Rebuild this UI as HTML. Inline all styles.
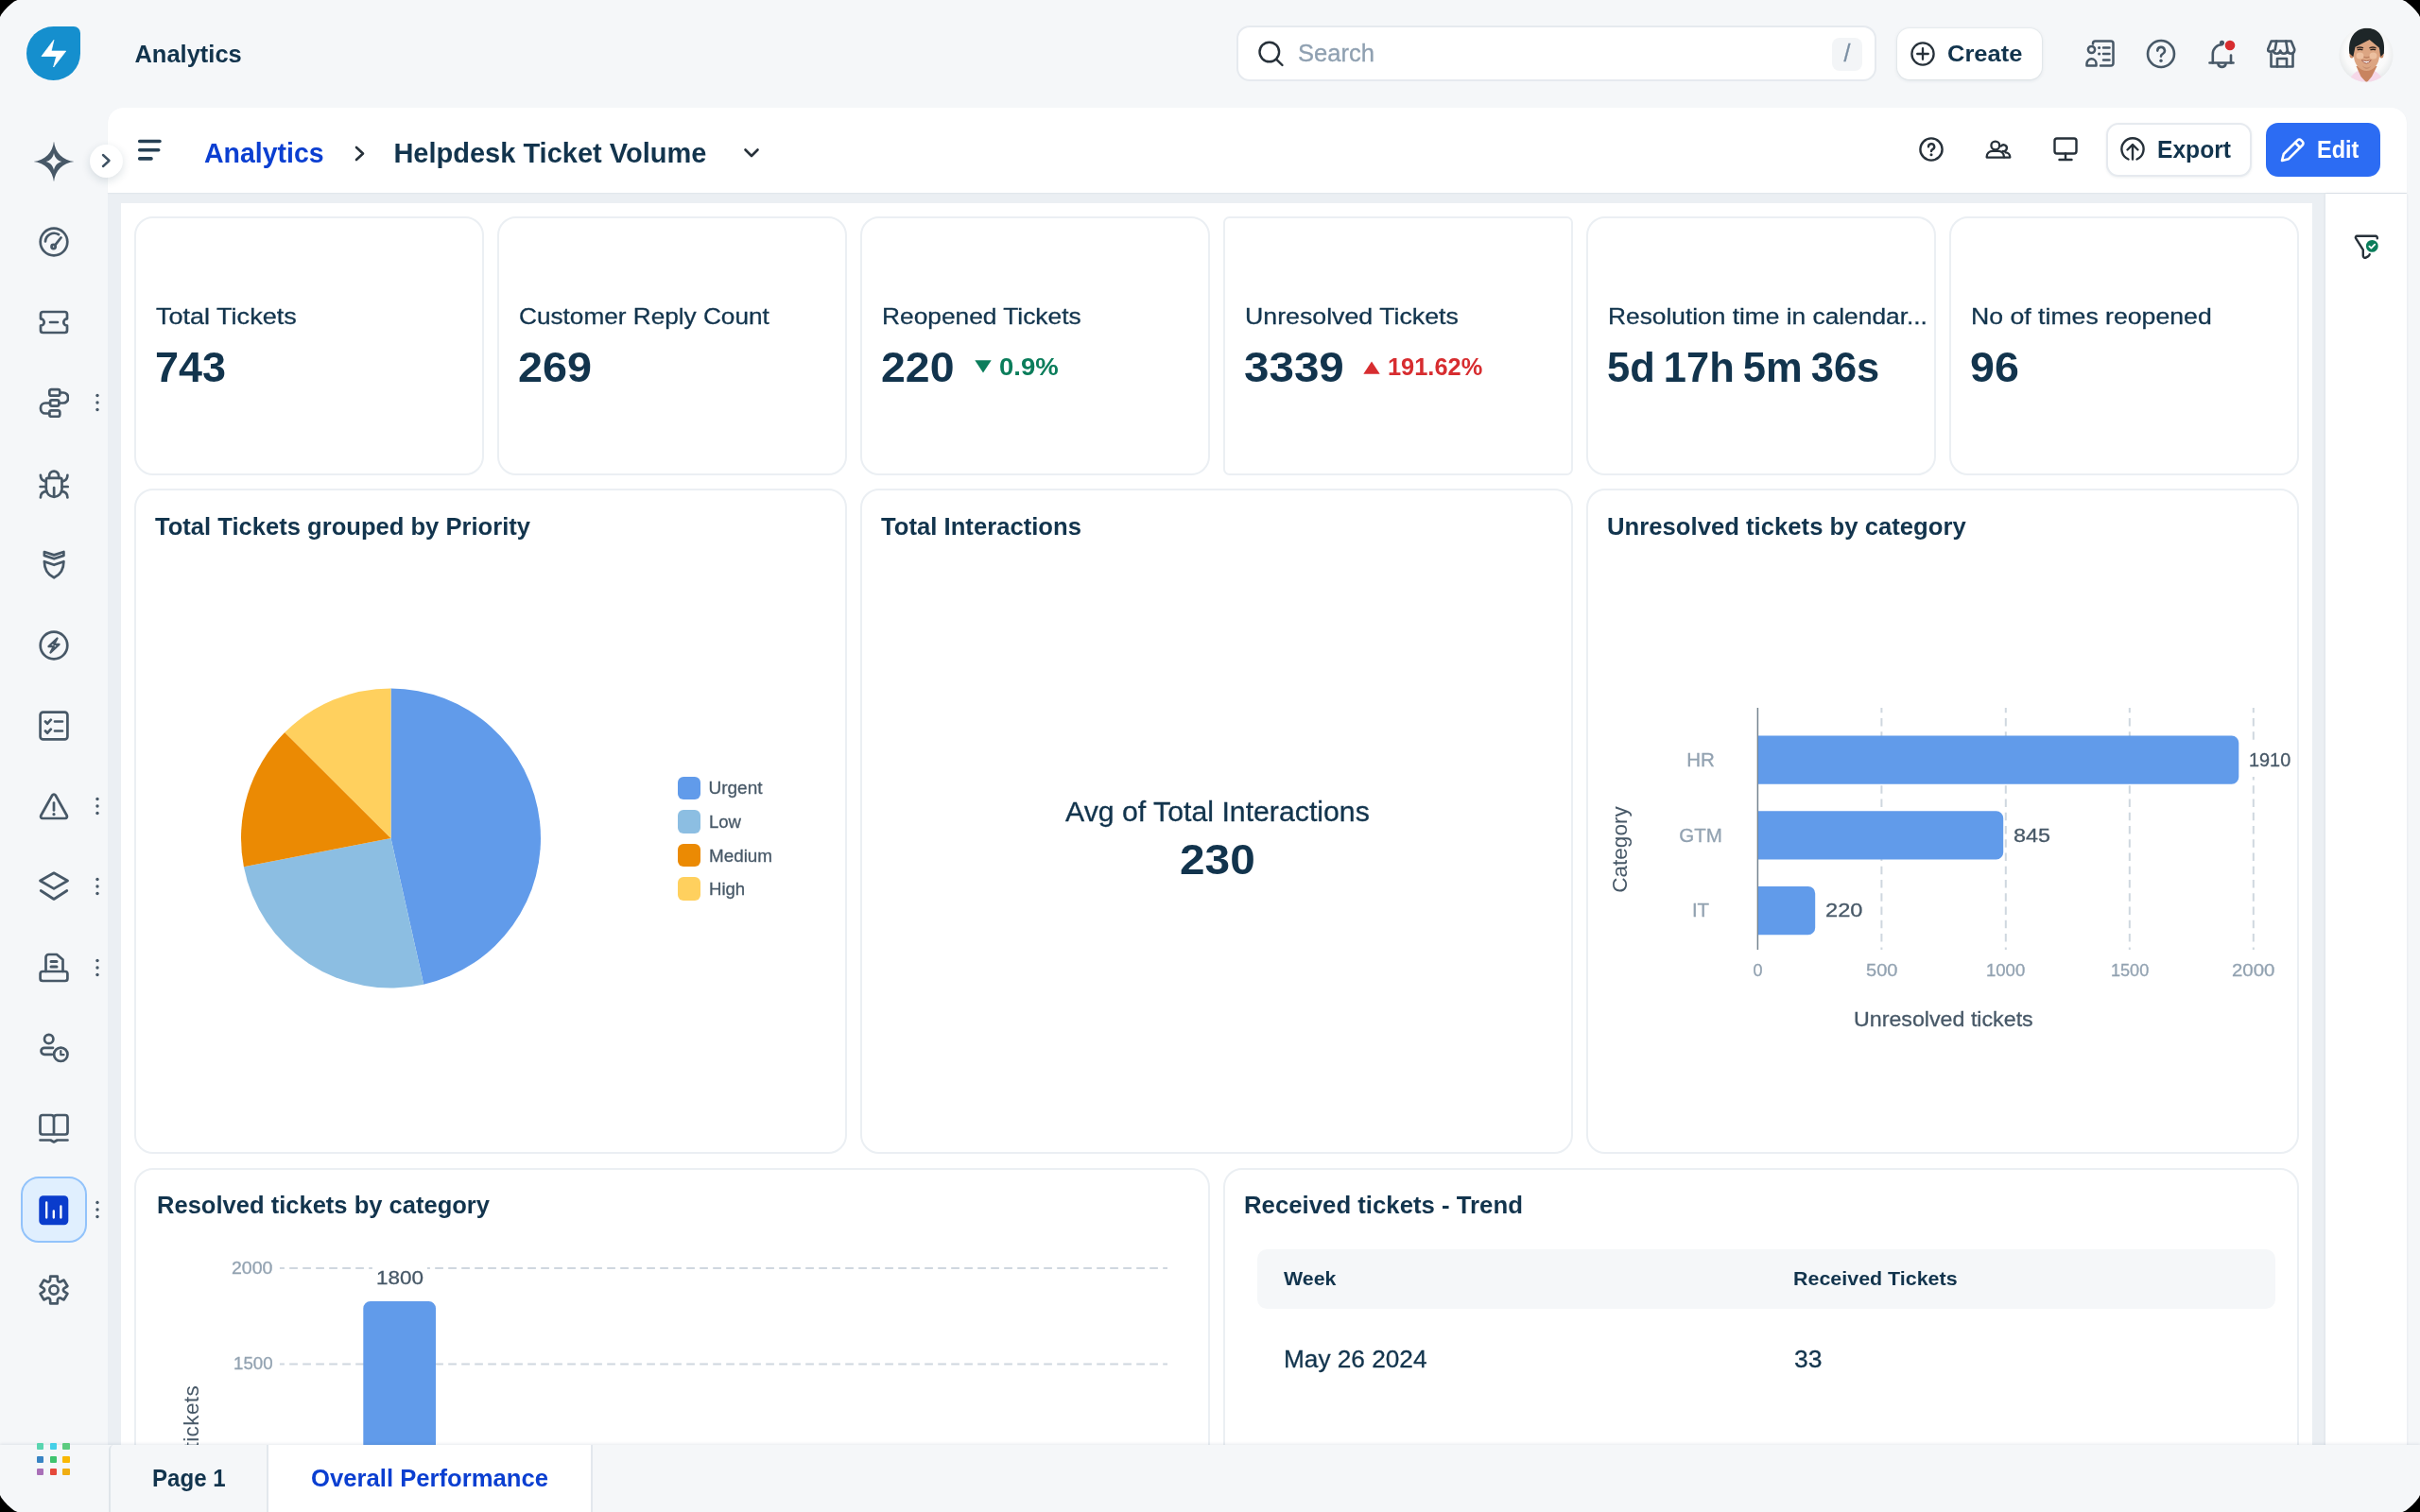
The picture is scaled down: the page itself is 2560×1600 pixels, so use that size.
<!DOCTYPE html>
<html><head><meta charset="utf-8"><title>Analytics</title>
<style>
html,body{margin:0;padding:0;background:#000;}
body{width:2560px;height:1600px;overflow:hidden;position:relative;font-family:"Liberation Sans",sans-serif;}
#app{will-change:transform;position:absolute;left:0;top:0;width:2560px;height:1600px;background:#f5f7f9;overflow:hidden;clip-path:polygon(0 18px,1.5px 15px,4.5px 11.3px,7.7px 7.7px,11.3px 4.5px,15px 1.5px,18.5px 0,2541.5px 0,2545px 1.5px,2548.7px 4.5px,2552.3px 7.7px,2555.5px 11.3px,2558.5px 15px,2560px 18px,2560px 1582px,2558.5px 1585px,2555.5px 1588.7px,2552.3px 1592.3px,2548.7px 1595.5px,2545px 1598.5px,2541.5px 1600px,18.5px 1600px,15px 1598.5px,11.3px 1595.5px,7.7px 1592.3px,4.5px 1588.7px,1.5px 1585px,0 1582px);}
.t{position:absolute;white-space:pre;transform-origin:0 0;}
.r{-webkit-text-stroke:0.3px currentColor;}
.b{position:absolute;box-sizing:border-box;}
.card{position:absolute;box-sizing:border-box;background:#fff;border:2px solid #ebeff3;border-radius:20px;}
</style></head><body><div id="app">
<div class="b" style="left:114px;top:114px;width:2432px;height:1486px;background:#ebeff3;border-radius:16px 16px 0 0;"></div>
<div class="b" style="left:114px;top:114px;width:2432px;height:89.7px;background:#fff;border-radius:16px 16px 0 0;box-shadow:0 1px 1.5px rgba(18,52,77,0.05);"></div>
<div class="b" style="left:128px;top:215px;width:2318px;height:1320px;background:#fff;"></div>
<div class="b" style="left:2460px;top:204.5px;width:86.2px;height:1330px;background:#fff;box-shadow:0 0 3px rgba(18,52,77,0.10);"></div>
<svg class="b" style="left:28px;top:28px;" width="57" height="57" viewBox="0 0 57 57" fill="none"><path d="M28.500 0H50a7 7 0 0 1 7 7v21.500A28.500 28.500 0 1 1 28.500 0z" fill="#158fce"/><path d="M28.900 14.400L16 31.500H31.700L28.600 43L41.700 26.100H26.200z" fill="#fff" stroke="#fff" stroke-width=".800" stroke-linejoin="round"/></svg>
<div class="t" style="left:142.4px;top:44.6px;font-size:25.5px;line-height:25.5px;color:#12344d;font-weight:700;">Analytics</div>
<div class="b" style="left:1308px;top:27px;width:677px;height:59px;background:#fff;border:2px solid #e6eaef;border-radius:14px;"></div>
<svg class="b" style="left:1326px;top:39px;" width="36" height="36" viewBox="0 0 36 36" fill="none"><circle cx="16.800" cy="16" r="10.300" stroke="#27313a" stroke-width="2.400"/><path d="M24.300 23.800L30.500 30" stroke="#27313a" stroke-width="2.400" stroke-linecap="round"/></svg>
<div class="t r" style="left:1373.3px;top:44.0px;font-size:25.5px;line-height:25.5px;color:#8fa0b1;transform:scaleX(1.0025);">Search</div>
<div class="b" style="left:1938px;top:40px;width:32px;height:35px;background:#f3f5f7;border-radius:8px;"></div>
<div class="t r" style="left:1950.5px;top:44.3px;font-size:25px;line-height:25px;color:#7b8fa3;">/</div>
<div class="b" style="left:2007px;top:30px;width:153px;height:54px;background:#fff;border-radius:13px;box-shadow:0 1px 4px rgba(18,52,77,0.12),0 0 0 1px rgba(18,52,77,0.03);"></div>
<svg class="b" style="left:2019px;top:42px;" width="30" height="30" viewBox="0 0 30 30" fill="none"><circle cx="15" cy="15" r="11.600" stroke="#27313a" stroke-width="2.300"/><path d="M15 9.200v11.600M9.200 15h11.600" stroke="#27313a" stroke-width="2.300" stroke-linecap="round"/></svg>
<div class="t" style="left:2059.5px;top:44.5px;font-size:24.5px;line-height:24.5px;color:#12344d;font-weight:700;transform:scaleX(1.0411);">Create</div>
<svg class="b" style="left:2206.0px;top:41.0px;" width="32" height="32" viewBox="0 0 32 32" fill="none"><g stroke="#475867" stroke-width="2.5" stroke-linecap="round" stroke-linejoin="round"><circle cx="6.5" cy="11.5" r="3.6"/><path d="M1.5 28.5v-2.2a5 5 0 0 1 5-5a5 5 0 0 1 5 5v2.2z"/><path d="M8 5.5V5a2.5 2.5 0 0 1 2.500-2.500H27a2.500 2.500 0 0 1 2.500 2.500v21a2.500 2.500 0 0 1-2.500 2.500h-11"/><path d="M19 9.500h6.500M19 16h6.500M19 22.500h6.500"/><path d="M14.600 9.500h.01M14.600 16h.01" stroke-width="3.200"/></g></svg>
<svg class="b" style="left:2270.0px;top:41.0px;" width="32" height="32" viewBox="0 0 32 32" fill="none"><g stroke="#475867" stroke-width="2.6" stroke-linecap="round" stroke-linejoin="round"><circle cx="16" cy="16" r="14"/><path d="M12.300 12.600a3.800 3.800 0 1 1 5.400 3.500c-1.200.600-1.700 1.300-1.700 2.500"/><path d="M16 23.200h.01" stroke-width="3.400"/></g></svg>
<svg class="b" style="left:2334.0px;top:41.0px;" width="32" height="32" viewBox="0 0 32 32" fill="none"><g stroke="#475867" stroke-width="2.6" stroke-linecap="round" stroke-linejoin="round"><path d="M3.500 25.500h25"/><path d="M6.800 25.500V16a9.700 9.700 0 0 1 9.700-9.700"/><path d="M26 17.500v8" /><path d="M12.500 27a4.200 4.200 0 0 0 8 0"/><circle cx="16.500" cy="4.300" r="1.300"/></g></svg>
<svg class="b" style="left:2352.2px;top:41px;" width="14" height="14" viewBox="0 0 14 14" fill="none"><circle cx="7" cy="7" r="5.300" fill="#d72d30"/></svg>
<svg class="b" style="left:2398.0px;top:41.0px;" width="32" height="32" viewBox="0 0 32 32" fill="none"><g stroke="#475867" stroke-width="2.6" stroke-linecap="round" stroke-linejoin="round"><path d="M5.500 2.500h21l3.500 8.500v1.500a3.800 3.800 0 0 1-7.500 0a3.800 3.800 0 0 1-7.500 0a3.800 3.800 0 0 1-7.500 0a3.800 3.800 0 0 1-5.500 0V11z" transform="translate(-.8 0)"/><path d="M11 2.500l-1.500 9M21 2.500l1.500 9" transform="translate(-.8 0)"/><path d="M4.500 16v13.500h23V16"/><path d="M11 29.500v-8.500h10v8.500"/></g></svg>
<svg class="b" style="left:2474px;top:28.5px;" width="58" height="58" viewBox="0 0 58 58" fill="none"><defs><clipPath id="av"><circle cx="29" cy="29" r="28.600"/></clipPath><radialGradient id="avg" cx="50%" cy="45%" r="55%"><stop offset="0" stop-color="#ffffff"/><stop offset=".7" stop-color="#fafafa"/><stop offset="1" stop-color="#e6e9ea"/></radialGradient></defs><g clip-path="url(#av)"><rect width="58" height="58" fill="url(#avg)"/><ellipse cx="29" cy="61" rx="18.500" ry="17" fill="#f6d8e8"/><path d="M18.500 41H40.500L35 52L29.500 58.500L23.500 52Z" fill="#c8845f"/><ellipse cx="13.800" cy="28" rx="2.400" ry="4.600" fill="#c98a66"/><ellipse cx="45.200" cy="28" rx="2.400" ry="4.600" fill="#c98a66"/><path d="M16 22C16 14 22 11 29.500 11S43 14 43 22V30C43 39 36.500 46 29.500 46S16 39 16 30Z" fill="#dca582"/><ellipse cx="22.500" cy="30" rx="4" ry="3.500" fill="#ecbf9f"/><ellipse cx="36.500" cy="30" rx="4" ry="3.500" fill="#ecbf9f"/><path d="M25 40.500C27 45 32 45 34.500 40.500C32 43 27.500 43 25 40.500Z" fill="#c88f70"/><path d="M11.300 27.500C9.500 10.500 18 .800 30 .800S50 10.500 47.800 27.500L44.500 31L42.800 21.500L32.600 13L17.500 20.800L15.300 31Z" fill="#1e2628"/><path d="M19.500 21.600q3-1.300 6 0M33 21.600q3-1.300 6 0" stroke="#3a2b24" stroke-width="1.500" fill="none" stroke-linecap="round"/><path d="M20.300 23.700q2.300-.900 4.600 0M34 23.700q2.300-.900 4.600 0" stroke="#2c211c" stroke-width="1.300" fill="none" stroke-linecap="round"/><path d="M27 31.200q2.500 1.300 5 0" stroke="#b87a5c" stroke-width="1.200" fill="none" stroke-linecap="round"/><path d="M24.300 34.800Q29.300 36.300 34.300 34.800Q29.300 41.300 24.300 34.800Z" fill="#fff" stroke="#a7604e" stroke-width="1"/></g></svg>
<svg class="b" style="left:144px;top:146px;" width="28" height="24" viewBox="0 0 28 24" fill="none"><path d="M3.700 3.500h21.300M3.700 12.700h20M3.700 21.900h12.300" stroke="#264054" stroke-width="3.600" stroke-linecap="round"/></svg>
<div class="t" style="left:216.0px;top:147.9px;font-size:29px;line-height:29px;color:#0b3fd1;font-weight:700;transform:scaleX(0.9826);">Analytics</div>
<svg class="b" style="left:372px;top:150px;" width="18" height="26" viewBox="0 0 18 26" fill="none"><path d="M5 6l7 6.500L5 19" stroke="#27313a" stroke-width="2.600" stroke-linecap="round" stroke-linejoin="round" fill="none"/></svg>
<div class="t" style="left:416.4px;top:147.9px;font-size:29px;line-height:29px;color:#12344d;font-weight:700;">Helpdesk Ticket Volume</div>
<svg class="b" style="left:784px;top:152px;" width="22" height="20" viewBox="0 0 22 20" fill="none"><path d="M4.500 6.500l6.500 6.500l6.500-6.500" stroke="#27313a" stroke-width="2.600" stroke-linecap="round" stroke-linejoin="round" fill="none"/></svg>
<div class="b" style="left:94.5px;top:153px;width:35px;height:35px;background:#fff;border-radius:50%;box-shadow:0 3px 10px rgba(18,52,77,0.15);"></div>
<svg class="b" style="left:103px;top:160px;" width="18" height="20" viewBox="0 0 18 20" fill="none"><path d="M6 4l6.500 6L6 16" stroke="#3f5263" stroke-width="2.400" stroke-linecap="round" stroke-linejoin="round" fill="none"/></svg>
<svg class="b" style="left:2028.6px;top:144.2px;" width="28" height="28" viewBox="0 0 28 28" fill="none"><g stroke="#27313a" stroke-width="2.4" stroke-linecap="round" stroke-linejoin="round"><circle cx="14" cy="14" r="11.600"/><path d="M11 11.200a3.100 3.100 0 1 1 4.400 2.900c-1 .500-1.400 1.100-1.400 2"/><path d="M14 19.800h.01" stroke-width="3"/></g></svg>
<svg class="b" style="left:2099.9px;top:144.2px;" width="28" height="28" viewBox="0 0 28 28" fill="none"><g stroke="#27313a" stroke-width="2.3" stroke-linecap="round" stroke-linejoin="round"><circle cx="10.800" cy="10" r="4.400"/><path d="M1.700 22.600v-.800a6 6 0 0 1 6-6h6.200a6 6 0 0 1 6 6v.800z"/><path d="M16.800 10.600a3.400 3.400 0 1 1 1.800 5.400"/><path d="M21.500 17.300a5 5 0 0 1 4.800 5v.300h-6"/></g></svg>
<svg class="b" style="left:2170.9px;top:144.2px;" width="28" height="28" viewBox="0 0 28 28" fill="none"><g stroke="#27313a" stroke-width="2.4" stroke-linecap="round" stroke-linejoin="round"><rect x="2.500" y="2.500" width="23" height="16" rx="2.500"/><path d="M14 18.500v6M7.500 25h13"/></g></svg>
<div class="b" style="left:2228px;top:130px;width:154px;height:56.6px;background:#fff;border:2px solid #e6eaef;border-radius:13px;box-shadow:0 1px 3px rgba(18,52,77,0.08);"></div>
<svg class="b" style="left:2241.8px;top:144.2px;" width="28" height="28" viewBox="0 0 28 28" fill="none"><g stroke="#27313a" stroke-width="2.400" stroke-linecap="round" stroke-linejoin="round"><path d="M9.500 24.500a11.600 11.600 0 1 1 9 0"/><path d="M14 24.500V9.500M8.500 14.500L14 9l5.500 5.500"/></g></svg>
<div class="t" style="left:2281.9px;top:146.3px;font-size:25px;line-height:25px;color:#12344d;font-weight:700;transform:scaleX(0.9851);">Export</div>
<div class="b" style="left:2396.5px;top:130px;width:121px;height:56.6px;background:#2c6cf3;border-radius:13px;"></div>
<svg class="b" style="left:2410px;top:144px;" width="30" height="30" viewBox="0 0 30 30" fill="none"><g stroke="#fff" stroke-width="2.600" stroke-linecap="round" stroke-linejoin="round"><path d="M4 26l1.800-7L20.500 4.300a2.600 2.600 0 0 1 3.700 0l1.500 1.500a2.600 2.600 0 0 1 0 3.700L11 24.200z"/><path d="M18 7l5 5"/></g></svg>
<div class="t" style="left:2450.9px;top:146.3px;font-size:25px;line-height:25px;color:#fff;font-weight:700;transform:scaleX(0.9403);">Edit</div>
<svg class="b" style="left:2488px;top:246px;" width="32" height="32" viewBox="0 0 32 32" fill="none"><g stroke="#27313a" stroke-width="2.400" stroke-linecap="round" stroke-linejoin="round"><path d="M26.800 6.300V5.400a1.600 1.600 0 0 0-1.600-1.600H5.400a1.500 1.500 0 0 0-1.300 2.300L11.800 18.300V24.800a2 2 0 0 0 2.900 1.800l2.300-1.200a3.200 3.200 0 0 0 1.700-2.300"/></g><circle cx="21.300" cy="14.400" r="6.400" fill="#0b7d5b"/><path d="M18.400 14.600l2 2l3.800-3.900" stroke="#fff" stroke-width="1.800" stroke-linecap="round" stroke-linejoin="round"/></svg>
<div class="card" style="left:142px;top:229.2px;width:370px;height:273.6px;border-radius:20px;"></div>
<div class="t r" style="left:164.5px;top:322.6px;font-size:24.5px;line-height:24.5px;color:#12344d;transform:scaleX(1.1031);">Total Tickets</div>
<div class="t" style="left:163.6px;top:366.8px;font-size:44px;line-height:44px;color:#12344d;font-weight:700;transform:scaleX(1.0216);">743</div>
<div class="card" style="left:526px;top:229.2px;width:370px;height:273.6px;border-radius:20px;"></div>
<div class="t r" style="left:548.5px;top:322.6px;font-size:24.5px;line-height:24.5px;color:#12344d;transform:scaleX(1.0685);">Customer Reply Count</div>
<div class="t" style="left:547.6px;top:366.8px;font-size:44px;line-height:44px;color:#12344d;font-weight:700;transform:scaleX(1.0625);">269</div>
<div class="card" style="left:910px;top:229.2px;width:370px;height:273.6px;border-radius:20px;"></div>
<div class="t r" style="left:932.5px;top:322.6px;font-size:24.5px;line-height:24.5px;color:#12344d;transform:scaleX(1.0738);">Reopened Tickets</div>
<div class="t" style="left:931.6px;top:366.8px;font-size:44px;line-height:44px;color:#12344d;font-weight:700;transform:scaleX(1.0556);">220</div>
<div class="card" style="left:1294px;top:229.2px;width:370px;height:273.6px;border-radius:6.5px;"></div>
<div class="t r" style="left:1316.5px;top:322.6px;font-size:24.5px;line-height:24.5px;color:#12344d;transform:scaleX(1.0910);">Unresolved Tickets</div>
<div class="t" style="left:1315.6px;top:366.8px;font-size:44px;line-height:44px;color:#12344d;font-weight:700;transform:scaleX(1.0808);">3339</div>
<div class="card" style="left:1678px;top:229.2px;width:370px;height:273.6px;border-radius:20px;"></div>
<div class="t r" style="left:1700.5px;top:322.6px;font-size:24.5px;line-height:24.5px;color:#12344d;transform:scaleX(1.0741);">Resolution time in calendar...</div>
<div class="t" style="left:1699.6px;top:366.8px;font-size:44px;line-height:44px;color:#12344d;font-weight:700;transform:scaleX(0.9878);word-spacing:-3px;">5d 17h 5m 36s</div>
<div class="card" style="left:2062px;top:229.2px;width:370px;height:273.6px;border-radius:20px;"></div>
<div class="t r" style="left:2084.5px;top:322.6px;font-size:24.5px;line-height:24.5px;color:#12344d;transform:scaleX(1.0873);">No of times reopened</div>
<div class="t" style="left:2083.6px;top:366.8px;font-size:44px;line-height:44px;color:#12344d;font-weight:700;transform:scaleX(1.0584);">96</div>
<svg class="b" style="left:1031px;top:380.9px;" width="18" height="14" viewBox="0 0 18 14" fill="none"><path d="M0.3 0.300h17.400L9 13.500z" fill="#0b7d5b"/></svg>
<div class="t" style="left:1056.8px;top:374.8px;font-size:26px;line-height:26px;color:#0b7d5b;font-weight:700;transform:scaleX(1.0580);">0.9%</div>
<svg class="b" style="left:1442px;top:381.8px;" width="18" height="14" viewBox="0 0 18 14" fill="none"><path d="M0.300 13.700h17.400L9 .500z" fill="#d72d30"/></svg>
<div class="t" style="left:1467.5px;top:374.8px;font-size:26px;line-height:26px;color:#d72d30;font-weight:700;transform:scaleX(0.9762);">191.62%</div>
<div class="card" style="left:142px;top:517.3px;width:754px;height:704px;border-radius:20px;"></div>
<div class="card" style="left:910px;top:517.3px;width:754px;height:704px;border-radius:20px;"></div>
<div class="card" style="left:1678px;top:517.3px;width:754px;height:704px;border-radius:20px;"></div>
<div class="t" style="left:164.3px;top:544.8px;font-size:25px;line-height:25px;color:#12344d;font-weight:700;transform:scaleX(1.0231);">Total Tickets grouped by Priority</div>
<div class="t" style="left:932.3px;top:544.8px;font-size:25px;line-height:25px;color:#12344d;font-weight:700;transform:scaleX(1.0266);">Total Interactions</div>
<div class="t" style="left:1700.0px;top:544.8px;font-size:25px;line-height:25px;color:#12344d;font-weight:700;transform:scaleX(1.0276);">Unresolved tickets by category</div>
<svg class="b" style="left:250px;top:724px;" width="330" height="330" viewBox="0 0 330 330" fill="none"><path d="M163.5 163L163.50 4.50A158.5 158.5 0 0 1 198.21 317.65Z" fill="#619bea"/><path d="M163.5 163L198.21 317.65A158.5 158.5 0 0 1 7.90 193.19Z" fill="#8cbee2"/><path d="M163.5 163L7.90 193.19A158.5 158.5 0 0 1 51.27 51.08Z" fill="#eb8a03"/><path d="M163.5 163L51.27 51.08A158.5 158.5 0 0 1 163.50 4.50Z" fill="#ffd05e"/></svg>
<div class="b" style="left:716.5px;top:821.5px;width:24.5px;height:24.5px;background:#619bea;border-radius:6px;"></div>
<div class="t r" style="left:749.5px;top:824.4px;font-size:19px;line-height:19px;color:#475867;">Urgent</div>
<div class="b" style="left:716.5px;top:857.1px;width:24.5px;height:24.5px;background:#8cbee2;border-radius:6px;"></div>
<div class="t r" style="left:749.5px;top:860.0px;font-size:19px;line-height:19px;color:#475867;transform:scaleX(0.9754);">Low</div>
<div class="b" style="left:716.5px;top:892.7px;width:24.5px;height:24.5px;background:#eb8a03;border-radius:6px;"></div>
<div class="t r" style="left:749.5px;top:895.6px;font-size:19px;line-height:19px;color:#475867;transform:scaleX(0.9914);">Medium</div>
<div class="b" style="left:716.5px;top:928.3px;width:24.5px;height:24.5px;background:#ffd05e;border-radius:6px;"></div>
<div class="t r" style="left:749.5px;top:931.2px;font-size:19px;line-height:19px;color:#475867;transform:scaleX(0.9775);">High</div>
<div class="t r" style="left:1126.6px;top:845.0px;font-size:29px;line-height:29px;color:#12344d;transform:scaleX(1.0433);">Avg of Total Interactions</div>
<div class="t" style="left:1247.9px;top:887.2px;font-size:45px;line-height:45px;color:#12344d;font-weight:700;transform:scaleX(1.0615);">230</div>
<svg class="b" style="left:1670px;top:500px;" width="780" height="560" viewBox="0 0 780 560" fill="none"><path d="M320.4 249V505" stroke="#cfd7df" stroke-width="2" stroke-dasharray="8.5 5.76" stroke-dashoffset="3.3"/><path d="M451.8 249V505" stroke="#cfd7df" stroke-width="2" stroke-dasharray="8.5 5.76" stroke-dashoffset="3.3"/><path d="M582.8 249V505" stroke="#cfd7df" stroke-width="2" stroke-dasharray="8.5 5.76" stroke-dashoffset="3.3"/><path d="M713.8 249V505" stroke="#cfd7df" stroke-width="2" stroke-dasharray="8.5 5.76" stroke-dashoffset="3.3"/><path d="M189.4 249V505" stroke="#76848f" stroke-width="1.500"/><rect x="706" y="284" width="54" height="38" fill="#fff"/><path d="M190 278.5h500.8a7.5 7.5 0 0 1 7.5 7.5v36.3a7.5 7.5 0 0 1 -7.5 7.5h-500.8z" fill="#619bea"/><path d="M190 358.2h251.7a7.5 7.5 0 0 1 7.5 7.5v36.3a7.5 7.5 0 0 1 -7.5 7.5h-251.7z" fill="#619bea"/><path d="M190 437.9h52.7a7.5 7.5 0 0 1 7.5 7.5v36.3a7.5 7.5 0 0 1 -7.5 7.5h-52.7z" fill="#619bea"/></svg>
<div class="t r" style="left:1784.2px;top:794.1px;font-size:20.5px;line-height:20.5px;color:#92a2b1;">HR</div>
<div class="t r" style="left:1776.2px;top:873.7px;font-size:20.5px;line-height:20.5px;color:#92a2b1;">GTM</div>
<div class="t r" style="left:1789.9px;top:953.4px;font-size:20.5px;line-height:20.5px;color:#92a2b1;">IT</div>
<div class="t r" style="left:2379.3px;top:794.1px;font-size:20.5px;line-height:20.5px;color:#475867;transform:scaleX(0.9692);">1910</div>
<div class="t r" style="left:2130.3px;top:873.8px;font-size:20.5px;line-height:20.5px;color:#475867;transform:scaleX(1.1402);">845</div>
<div class="t r" style="left:1931.3px;top:953.4px;font-size:20.5px;line-height:20.5px;color:#475867;transform:scaleX(1.1519);">220</div>
<div class="t r" style="left:1854.4px;top:1017.8px;font-size:18px;line-height:18px;color:#92a2b1;">0</div>
<div class="t r" style="left:1973.7px;top:1017.8px;font-size:18px;line-height:18px;color:#92a2b1;transform:scaleX(1.1121);">500</div>
<div class="t r" style="left:2101.2px;top:1017.8px;font-size:18px;line-height:18px;color:#92a2b1;transform:scaleX(1.0289);">1000</div>
<div class="t r" style="left:2232.7px;top:1017.8px;font-size:18px;line-height:18px;color:#92a2b1;transform:scaleX(1.0039);">1500</div>
<div class="t r" style="left:2361.1px;top:1017.8px;font-size:18px;line-height:18px;color:#92a2b1;transform:scaleX(1.1337);">2000</div>
<div class="t r" style="left:1960.8px;top:1067.5px;font-size:22.5px;line-height:22.5px;color:#475867;transform:scaleX(1.0319);">Unresolved tickets</div>
<div class="t" style="left:1613.6px;top:887.5px;width:200px;height:22px;text-align:center;font-size:22.5px;line-height:22px;color:#475867;transform-origin:50% 50%;transform:rotate(-90deg);">Category</div>
<div class="card" style="left:142px;top:1235.7px;width:1138px;height:400px;border-radius:20px;"></div>
<div class="card" style="left:1294px;top:1235.7px;width:1138px;height:400px;border-radius:20px;"></div>
<div class="t" style="left:166.0px;top:1263.2px;font-size:25px;line-height:25px;color:#12344d;font-weight:700;transform:scaleX(1.0215);">Resolved tickets by category</div>
<div class="t" style="left:1316.0px;top:1263.2px;font-size:25px;line-height:25px;color:#12344d;font-weight:700;transform:scaleX(1.0303);">Received tickets - Trend</div>
<svg class="b" style="left:0px;top:1200px;" width="1300" height="400" viewBox="0 0 1300 400" fill="none"><path d="M295.9 142.0H1235" stroke="#cfd7df" stroke-width="2" stroke-dasharray="8.7 5.3" stroke-dashoffset="3.7"/><path d="M295.9 243.5H1235" stroke="#cfd7df" stroke-width="2" stroke-dasharray="8.7 5.3" stroke-dashoffset="3.7"/><rect x="393.9" y="138" width="58" height="28" fill="#fff"/><path d="M384.3 400V184.500a7.500 7.500 0 0 1 7.500-7.500h61.700a7.500 7.500 0 0 1 7.500 7.500V400z" fill="#619bea"/></svg>
<div class="t r" style="left:245.0px;top:1332.8px;font-size:18px;line-height:18px;color:#92a2b1;transform:scaleX(1.0863);">2000</div>
<div class="t r" style="left:247.0px;top:1434.3px;font-size:18px;line-height:18px;color:#92a2b1;transform:scaleX(1.0364);">1500</div>
<div class="t r" style="left:397.6px;top:1341.6px;font-size:20.5px;line-height:20.5px;color:#475867;transform:scaleX(1.0963);">1800</div>
<div class="t" style="left:53px;top:1540px;width:300px;letter-spacing:0.4px;height:22px;text-align:center;font-size:22.5px;line-height:22px;color:#475867;transform-origin:50% 50%;transform:rotate(-90deg);">Resolved tickets</div>
<div class="b" style="left:1329.6px;top:1322px;width:1077.7px;height:63px;background:#f5f7f9;border-radius:10px;"></div>
<div class="t" style="left:1358.0px;top:1342.4px;font-size:21px;line-height:21px;color:#12344d;font-weight:700;transform:scaleX(1.0169);">Week</div>
<div class="t" style="left:1896.8px;top:1342.4px;font-size:21px;line-height:21px;color:#12344d;font-weight:700;transform:scaleX(1.0208);">Received Tickets</div>
<div class="t r" style="left:1358.0px;top:1425.9px;font-size:25.5px;line-height:25.5px;color:#12344d;transform:scaleX(1.0276);">May 26 2024</div>
<div class="t r" style="left:1897.8px;top:1425.9px;font-size:25.5px;line-height:25.5px;color:#12344d;transform:scaleX(1.0400);">33</div>
<div class="b" style="left:0px;top:1528.5px;width:2560px;height:72px;background:#f5f7f9;box-shadow:0 -1px 3px rgba(18,52,77,0.10);"></div>
<div class="b" style="left:114.5px;top:1528.5px;width:170px;height:72px;background:#f5f7f9;border-left:2px solid #dfe5ea;border-radius:5px 0 0 0;"></div>
<div class="b" style="left:282.3px;top:1528.5px;width:345px;height:72px;background:#fff;border-left:2px solid #e3e8ed;border-right:2px solid #e3e8ed;"></div>
<div class="t" style="left:160.7px;top:1552.4px;font-size:25px;line-height:25px;color:#12344d;font-weight:700;transform:scaleX(0.9627);">Page 1</div>
<div class="t" style="left:329.4px;top:1552.4px;font-size:25px;line-height:25px;color:#0b3fd1;font-weight:700;transform:scaleX(1.0263);">Overall Performance</div>
<div class="b" style="left:0px;top:1528.5px;width:113.5px;height:72px;background:#f5f7f9;"></div>
<svg class="b" style="left:33.7px;top:147.6px;" width="46" height="46" viewBox="0 0 46 46" fill="none"><path d="M23 1.500C24.200 13.500 32.500 21.800 44.500 23C32.500 24.200 24.200 32.500 23 44.500C21.800 32.500 13.500 24.200 1.500 23C13.500 21.800 21.800 13.500 23 1.500Z" fill="#475867"/><path d="M23 14C24 19 27 22 31.300 23C27 24 24 27 23 32C22 27 19 24 14.700 23C19 22 22 19 23 14Z" fill="#f5f7f9"/></svg>
<svg class="b" style="left:40.7px;top:239.8px;" width="32" height="32" viewBox="0 0 32 32" fill="none"><g stroke="#475867" stroke-width="2.7" stroke-linecap="round" stroke-linejoin="round"><circle cx="16" cy="16" r="14.300"/><path d="M7 15.500a9.200 9.200 0 0 1 14-7.300"/><path d="M17.300 19.300L23.500 11.500"/><circle cx="15.600" cy="21" r="2.100"/></g></svg>
<svg class="b" style="left:40.7px;top:325.0px;" width="32" height="32" viewBox="0 0 32 32" fill="none"><g stroke="#475867" stroke-width="2.7" stroke-linecap="round" stroke-linejoin="round"><path d="M4.500 5h23a2.500 2.500 0 0 1 2.500 2.500v4.800a3.700 3.700 0 0 0 0 7.400v4.800a2.500 2.500 0 0 1-2.500 2.500h-23a2.500 2.500 0 0 1-2.500-2.500v-4.800a3.700 3.700 0 0 0 0-7.400V7.500a2.500 2.500 0 0 1 2.500-2.500z"/><path d="M12 16h8"/></g></svg>
<svg class="b" style="left:40.7px;top:409.8px;" width="32" height="32" viewBox="0 0 32 32" fill="none"><g stroke="#475867" stroke-width="2.7" stroke-linecap="round" stroke-linejoin="round"><rect x="11.300" y="2.200" width="11" height="6.500" rx="2"/><rect x="12" y="13.300" width="9.400" height="6.300" rx="2"/><rect x="11.300" y="24.300" width="11" height="6.500" rx="2"/><path d="M22.300 5.500h3.700a5 5 0 0 1 5 5v1a5 5 0 0 1-5 5h-4.500"/><path d="M12 16.500H7a5 5 0 0 0-5 5v1a5 5 0 0 0 5 5h4.300"/></g></svg>
<svg class="b" style="left:40.7px;top:497.0px;" width="32" height="32" viewBox="0 0 32 32" fill="none"><g stroke="#475867" stroke-width="2.7" stroke-linecap="round" stroke-linejoin="round"><path d="M11.100 8.900V6.600a5 5 0 0 1 10 0V8.900"/><path d="M9.800 8.900h12.700a2 2 0 0 1 2 2v9.600a8.350 8.350 0 0 1-16.700 0v-9.600a2 2 0 0 1 2-2z"/><path d="M16.150 19v9.500"/><path d="M7.800 12.600C4.500 12 1.900 9.500 1.900 5.800M24.500 12.600C27.800 12 30.400 9.500 30.400 5.800M1.600 18h6.200M24.500 18h6.200M8.400 22.800C4.500 23 1.900 25.500 1.900 29.500M23.900 22.800C27.800 23 30.400 25.500 30.400 29.500"/></g></svg>
<svg class="b" style="left:40.7px;top:581.0px;" width="32" height="32" viewBox="0 0 32 32" fill="none"><g stroke="#475867" stroke-width="2.7" stroke-linecap="round" stroke-linejoin="round"><path d="M5.900 3L16.150 6.400L26.400 3V6.900L16.150 10.300L5.900 6.900Z"/><path d="M5.900 13.200L16.150 16.800L26.400 13.200C26.400 22 22 27.500 16.150 30.300C10.300 27.500 5.900 22 5.900 13.200Z"/></g></svg>
<svg class="b" style="left:40.7px;top:666.5px;" width="32" height="32" viewBox="0 0 32 32" fill="none"><g stroke="#475867" stroke-width="2.7" stroke-linecap="round" stroke-linejoin="round"><circle cx="16" cy="16" r="14.300"/><path d="M19.500 8.500L10.500 17.200h5.300L12.500 23.500L21.500 14.800h-5.300z" stroke-width="2.300"/></g></svg>
<svg class="b" style="left:40.7px;top:752.0px;" width="32" height="32" viewBox="0 0 32 32" fill="none"><g stroke="#475867" stroke-width="2.7" stroke-linecap="round" stroke-linejoin="round"><rect x="1.600" y="1.600" width="28.800" height="28.800" rx="3"/><path d="M7 11.500l2.200 2.200l3.600-4M7 21.500l2.200 2.200l3.600-4M17 11.500h8M17 21.500h8"/></g></svg>
<svg class="b" style="left:40.7px;top:837.0px;" width="32" height="32" viewBox="0 0 32 32" fill="none"><g stroke="#475867" stroke-width="2.7" stroke-linecap="round" stroke-linejoin="round"><path d="M14.300 4.500a2 2 0 0 1 3.400 0l12 21.500a2 2 0 0 1-1.700 3H4a2 2 0 0 1-1.700-3z"/><path d="M16 12.500v8"/><path d="M16 24.700h.01" stroke-width="3.200"/></g></svg>
<svg class="b" style="left:40.7px;top:922.0px;" width="32" height="32" viewBox="0 0 32 32" fill="none"><g stroke="#475867" stroke-width="2.7" stroke-linecap="round" stroke-linejoin="round"><path d="M16 1.800L30.500 10L16 18.300L1.500 10Z"/><path d="M2.200 20.500L16 29.500L29.800 20.500"/></g></svg>
<svg class="b" style="left:40.7px;top:1008.0px;" width="32" height="32" viewBox="0 0 32 32" fill="none"><g stroke="#475867" stroke-width="2.7" stroke-linecap="round" stroke-linejoin="round"><path d="M7.500 20V5a3 3 0 0 1 3-3h8.500l6.500 5.500V20"/><path d="M13 9.500h6M13 15h6" stroke-width="3"/><rect x="1.600" y="20" width="28.800" height="10" rx="2.500"/></g></svg>
<svg class="b" style="left:40.7px;top:1093.0px;" width="32" height="32" viewBox="0 0 32 32" fill="none"><g stroke="#475867" stroke-width="2.7" stroke-linecap="round" stroke-linejoin="round"><circle cx="10.700" cy="6.500" r="4.700"/><path d="M15 15.800H6a3.500 3.500 0 0 0 0 7h8"/><circle cx="23.300" cy="22.800" r="7.200"/><path d="M23.300 19v4.200h3.200" stroke-width="2.200"/></g></svg>
<svg class="b" style="left:40.7px;top:1178.0px;" width="32" height="32" viewBox="0 0 32 32" fill="none"><g stroke="#475867" stroke-width="2.7" stroke-linecap="round" stroke-linejoin="round"><path d="M16 5v17M16 5c0-1.700-1.300-3-3-3H4a2.500 2.500 0 0 0-2.500 2.500v15.500A2.500 2.500 0 0 0 4 22.500h24a2.500 2.500 0 0 0 2.500-2.500V4.500A2.500 2.500 0 0 0 28 2h-9c-1.700 0-3 1.300-3 3"/><path d="M1.500 28.500h11l3.500 2l3.500-2h11"/></g></svg>
<div class="b" style="left:21.7px;top:1244.6px;width:70.4px;height:70.4px;background:#e0effe;border:2px solid #92c3fb;border-radius:19px;"></div>
<svg class="b" style="left:41px;top:1264.5px;" width="32" height="32" viewBox="0 0 32 32" fill="none"><rect x=".3" y=".3" width="31" height="31" rx="4.500" fill="#0a3ccc"/><path d="M8.200 7.500v16M15.800 16.500v7M23.400 11.500v12" stroke="#fff" stroke-width="2.300" stroke-linecap="round"/></svg>
<svg class="b" style="left:40.7px;top:1349.3px;" width="32" height="32" viewBox="0 0 32 32" fill="none"><g stroke="#475867" stroke-width="2.7" stroke-linecap="round" stroke-linejoin="round"><path d="M12.04 5.95L12.27 1.57L19.73 1.57L19.96 5.95Q20.60 8.03 22.72 7.55L26.63 5.56L30.36 12.02L26.68 14.40Q25.20 16.00 26.68 17.60L30.36 19.98L26.63 26.44L22.72 24.45Q20.60 23.97 19.96 26.05L19.73 30.43L12.27 30.43L12.04 26.05Q11.40 23.97 9.28 24.45L5.37 26.44L1.64 19.98L5.32 17.60Q6.80 16.00 5.32 14.40L1.64 12.02L5.37 5.56L9.28 7.55Q11.40 8.03 12.04 5.95Z"/><circle cx="16" cy="16" r="4.600"/></g></svg>
<svg class="b" style="left:99.4px;top:413.8px;" width="8" height="24" viewBox="0 0 8 24" fill="none"><circle cx="4" cy="4.500" r="1.700" fill="#475867"/><circle cx="4" cy="12" r="1.700" fill="#475867"/><circle cx="4" cy="19.500" r="1.700" fill="#475867"/></svg>
<svg class="b" style="left:99.4px;top:841px;" width="8" height="24" viewBox="0 0 8 24" fill="none"><circle cx="4" cy="4.500" r="1.700" fill="#475867"/><circle cx="4" cy="12" r="1.700" fill="#475867"/><circle cx="4" cy="19.500" r="1.700" fill="#475867"/></svg>
<svg class="b" style="left:99.4px;top:926px;" width="8" height="24" viewBox="0 0 8 24" fill="none"><circle cx="4" cy="4.500" r="1.700" fill="#475867"/><circle cx="4" cy="12" r="1.700" fill="#475867"/><circle cx="4" cy="19.500" r="1.700" fill="#475867"/></svg>
<svg class="b" style="left:99.4px;top:1012px;" width="8" height="24" viewBox="0 0 8 24" fill="none"><circle cx="4" cy="4.500" r="1.700" fill="#475867"/><circle cx="4" cy="12" r="1.700" fill="#475867"/><circle cx="4" cy="19.500" r="1.700" fill="#475867"/></svg>
<svg class="b" style="left:99.4px;top:1268px;" width="8" height="24" viewBox="0 0 8 24" fill="none"><circle cx="4" cy="4.500" r="1.700" fill="#475867"/><circle cx="4" cy="12" r="1.700" fill="#475867"/><circle cx="4" cy="19.500" r="1.700" fill="#475867"/></svg>
<div class="b" style="left:39.0px;top:1527.0px;width:7.2px;height:7.2px;background:#5ad5b0;border-radius:1px;"></div>
<div class="b" style="left:52.7px;top:1527.0px;width:7.2px;height:7.2px;background:#45d0e8;border-radius:1px;"></div>
<div class="b" style="left:66.4px;top:1527.0px;width:7.2px;height:7.2px;background:#5ccb7f;border-radius:1px;"></div>
<div class="b" style="left:39.0px;top:1540.5px;width:7.2px;height:7.2px;background:#3884c4;border-radius:1px;"></div>
<div class="b" style="left:52.7px;top:1540.5px;width:7.2px;height:7.2px;background:#3fc46f;border-radius:1px;"></div>
<div class="b" style="left:66.4px;top:1540.5px;width:7.2px;height:7.2px;background:#f9b805;border-radius:1px;"></div>
<div class="b" style="left:39.0px;top:1554.0px;width:7.2px;height:7.2px;background:#a970b8;border-radius:1px;"></div>
<div class="b" style="left:52.7px;top:1554.0px;width:7.2px;height:7.2px;background:#e5493b;border-radius:1px;"></div>
<div class="b" style="left:66.4px;top:1554.0px;width:7.2px;height:7.2px;background:#f0ae13;border-radius:1px;"></div>
</div></body></html>
